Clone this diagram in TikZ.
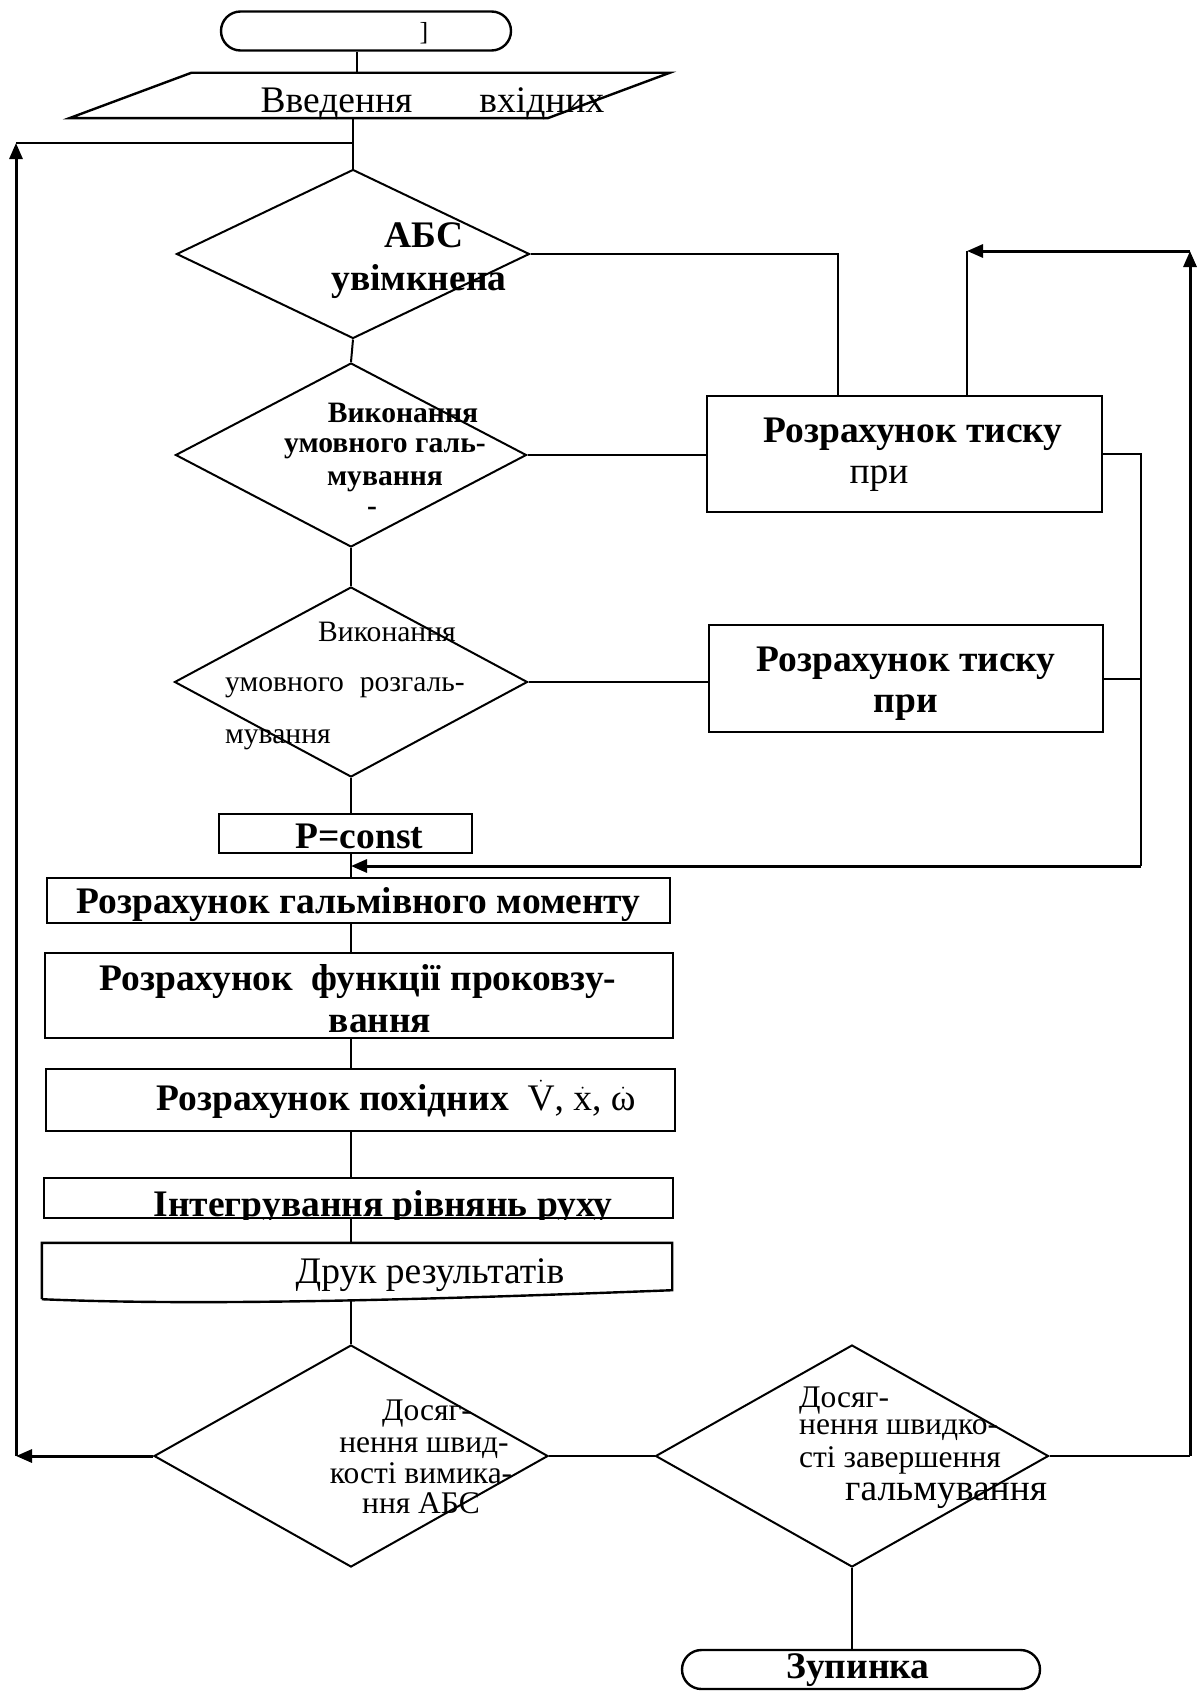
\documentclass[tikz,border=0pt]{standalone}
\usepackage{amsmath}
\usepackage{fontspec}
\setmainfont{Liberation Serif}
\usetikzlibrary{shapes.geometric, arrows.meta}

\newcommand{\fbig}{\fontsize{37.5pt}{40pt}\selectfont}
\newcommand{\fmid}{\fontsize{31.5pt}{34pt}\selectfont}
\newcommand{\fsml}{\fontsize{29.6pt}{32pt}\selectfont}

\tikzstyle{startstop} = [rectangle, rounded corners=19.5pt, draw=black, line width=2.4pt, inner sep=0pt]
\tikzstyle{process} = [rectangle, draw=black, line width=2.5pt, inner sep=0pt]
\tikzstyle{io} = [rectangle, inner sep=0pt]
\tikzstyle{decision} = [diamond, draw=black, line width=2pt, inner sep=0pt]
\tikzstyle{conn} = [line width=2pt]
\tikzstyle{arrow} = [line width=3pt, -{Triangle[length=16pt, width=13pt]}]
\tikzstyle{txt} = [inner sep=0pt, anchor=base, font=\fbig]

\begin{document}
\begin{tikzpicture}[x=1pt, y=-1pt]
    \useasboundingbox (0,0) rectangle (1201,1691);

    % Shapes
    \node (start) [startstop, minimum width=290pt, minimum height=39pt] at (366,31) {};
    \node (in) [io, minimum width=478pt, minimum height=45pt] at (369.5,95.5) {};
    \draw [line width=2.4pt] ([xshift=61pt]in.north west) -- ([xshift=61pt]in.north east) -- ([xshift=-61pt]in.south east) -- ([xshift=-61pt]in.south west) -- cycle;
    \node (abs) [decision, minimum width=353pt, minimum height=169pt] at (353,254) {};
    \node (brake) [decision, minimum width=351pt, minimum height=184pt] at (351,455) {};
    \node (release) [decision, minimum width=353pt, minimum height=190pt] at (351,682) {};
    \node (press1) [process, minimum width=395pt, minimum height=116pt] at (904.5,454) {};
    \node (press2) [process, minimum width=394pt, minimum height=107pt] at (906,678.5) {};
    \node (pconst) [process, minimum width=253pt, minimum height=39pt] at (345.5,833.5) {};
    \node (torque) [process, minimum width=623pt, minimum height=45pt] at (358.5,900.5) {};
    \node (slip) [process, minimum width=628pt, minimum height=85pt] at (359,995.5) {};
    \node (deriv) [process, minimum width=629pt, minimum height=62pt] at (360.5,1100) {};
    \node (integr) [process, minimum width=629pt, minimum height=40pt] at (358.5,1198) {};
    \node (print) [io, minimum width=630pt, minimum height=56pt] at (357,1271) {};
    \draw [line width=2.4pt] (print.south west) -- (print.north west) -- (print.north east) -- ([yshift=9pt]print.south east) .. controls (420,1300) and (200,1306) .. (print.south west);
    \node (voff) [decision, minimum width=394pt, minimum height=222pt] at (351,1456) {};
    \node (vend) [decision, minimum width=393pt, minimum height=222pt] at (852,1456) {};
    \node (stop) [startstop, minimum width=358pt, minimum height=39pt] at (861,1669.5) {};

    % Texts
    \node (t-start) [txt, font=\fontsize{26pt}{28pt}\selectfont] at (424,40.5) {]};
    \node (t-in) [txt] at (432.5,113) {Введення\hspace{67pt}вхідних};
    \node (t-abs1) [txt, font=\fbig\bfseries] at (424,247) {АБС};
    \node (t-abs2) [txt, font=\fbig\bfseries] at (419,290) {увімкнена};
    \node (t-br1) [txt, font=\fsml\bfseries] at (403,422) {Виконання};
    \node (t-br2) [txt, font=\fsml\bfseries] at (385,452) {умовного галь-};
    \node (t-br3) [txt, font=\fsml\bfseries] at (385,485) {мування};
    \node (t-br4) [txt, font=\fsml\bfseries] at (372,515) {-};
    \node (t-rel1) [txt, font=\fsml] at (387,641) {Виконання};
    \node (t-rel2) [txt, font=\fsml, anchor=base west] at (225,691) {умовного};
    \node (t-rel3) [txt, font=\fsml, anchor=base east] at (465,691) {розгаль-};
    \node (t-rel4) [txt, font=\fsml, anchor=base west] at (225,743) {мування};
    \node (t-p1a) [txt, font=\fbig\bfseries] at (913,442) {Розрахунок тиску};
    \node (t-p1b) [txt] at (879,483) {при};
    \node (t-p2a) [txt, font=\fbig\bfseries] at (906,671) {Розрахунок тиску};
    \node (t-p2b) [txt, font=\fbig\bfseries] at (906,712) {при};
    \node (t-pconst) [txt, font=\fbig\bfseries] at (359.5,848) {P=const};
    \node (t-torque) [txt, font=\fbig\bfseries] at (358.5,913) {Розрахунок гальмівного моменту};
    \node (t-slip1) [txt, font=\fbig\bfseries] at (358,990) {Розрахунок\ \ функції проковзу-};
    \node (t-slip2) [txt, font=\fbig\bfseries] at (380,1032) {вання};
    \node (t-deriv) [txt] at (396,1110) {{\bfseries Розрахунок похідних}\ \ $\dot{\text{V}}$, $\dot{\text{x}}$, $\dot{\text{ω}}$};
    \begin{scope}
        \clip (integr.north west) rectangle (integr.south east);
        \node (t-integr) [txt, font=\fbig\bfseries] at (383,1216) {Інтегрування рівнянь руху};
    \end{scope}
    \node (t-print) [txt] at (430,1283) {Друк результатів};
    \node (t-voff1) [txt, font=\fmid] at (427,1420) {Досяг-};
    \node (t-voff2) [txt, font=\fmid] at (424,1452) {нення швид-};
    \node (t-voff3) [txt, font=\fmid] at (421,1483) {кості вимика-};
    \node (t-voff4) [txt, font=\fmid] at (421,1513) {ння АБС};
    \node (t-vend1) [txt, font=\fmid, anchor=base west] at (799,1407) {Досяг-};
    \node (t-vend2) [txt, font=\fmid, anchor=base west] at (799,1434) {нення швидко-};
    \node (t-vend3) [txt, font=\fmid, anchor=base west] at (799,1467) {сті завершення};
    \node (t-vend4) [txt, anchor=base west] at (845,1500) {гальмування};
    \node (t-stop) [txt, font=\fbig\bfseries] at (858,1678) {Зупинка};

    % Connectors
    \coordinate (sx) at ([xshift=-9pt]start.south);
    \coordinate (lp) at (16,143);
    \coordinate (lb) at (16,1456);
    \coordinate (ya) at (838,254);
    \coordinate (rc) at (1141,866);
    \coordinate (rb) at (1190,1456);
    \coordinate (rt) at (1190,251);
    \coordinate (rk) at (967,251);

    \draw [conn] (sx) -- (sx |- in.north);
    \draw [conn] (abs.north |- in.south) -- (abs.north);
    \draw [conn] (lp) -- (lp -| abs.north);
    \draw [conn] (abs.south) -- (brake.north);
    \draw [conn] (brake.south) -- (release.north);
    \draw [conn] (release.south) -- (release.south |- pconst.north);
    \draw [conn] (release.south |- pconst.south) -- (release.south |- torque.north);
    \draw [conn] (voff.north |- torque.south) -- (voff.north |- slip.north);
    \draw [conn] (voff.north |- slip.south) -- (voff.north |- deriv.north);
    \draw [conn] (voff.north |- deriv.south) -- (voff.north |- integr.north);
    \draw [conn] (voff.north |- integr.south) -- (voff.north |- print.north);
    \draw [conn] (voff.north |- print.south) -- (voff.north);

    \draw [conn] (abs.east) -- (abs.east -| ya) -- (ya |- press1.north);
    \draw [conn] (brake.east) -- (brake.east -| press1.west);
    \draw [conn] (release.east) -- (release.east -| press2.west);
    \draw [conn] (press1.east) -- (press1.east -| rc) -- (rc);
    \draw [conn] (press2.east) -- (press2.east -| rc);
    \draw [arrow] (rc) -- (rc -| voff.north);

    \draw [conn] (voff.east) -- (vend.west);
    \draw [conn] (vend.south) -- (vend.south |- stop.north);
    \draw [arrow] (voff.west) -- (lb);
    \draw [arrow] (lb) -- (lp);
    \draw [conn] (vend.east) -- (rb);
    \draw [arrow] (rb) -- (rt);
    \draw [arrow] (rt) -- (rk);
    \draw [conn] (rk) -- (rk |- press1.north);
\end{tikzpicture}
\end{document}
